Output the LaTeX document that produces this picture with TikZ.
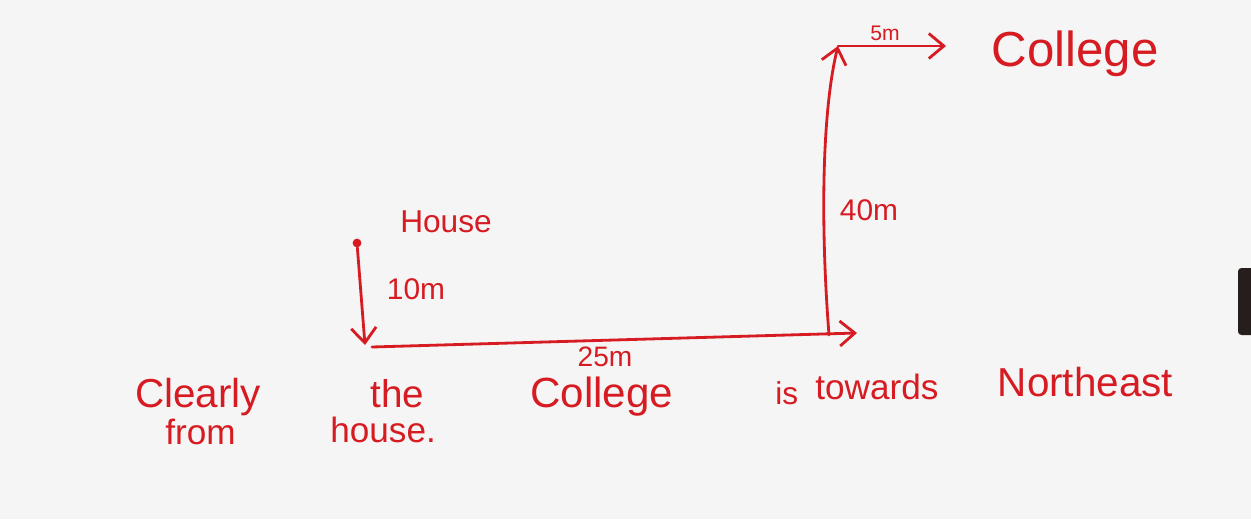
\documentclass[tikz,border=0pt]{standalone}
\usepackage{fontspec}
\setmainfont{Liberation Sans}
\usetikzlibrary{arrows.meta, positioning}
\definecolor{inkred}{RGB}{214, 28, 34}
\definecolor{paper}{RGB}{245, 245, 245}
\definecolor{barblack}{RGB}{38, 30, 28}

\tikzset{
  pen/.style={inkred, line width=1.6pt, line cap=round},
  penarrow/.style={pen, -{Straight Barb[length=3mm, width=5mm, line width=1.6pt]}},
  scrawl/.style={text=inkred, inner sep=0pt},
  housedot/.style={circle, fill=inkred, inner sep=0pt, minimum size=5pt}
}

\begin{document}
\begin{tikzpicture}

% ============================================================
% 背景
% ============================================================
\fill[paper] (0,0) rectangle (25.02,10.38);
\useasboundingbox (0,0) rectangle (25.02,10.38);

% 右侧黑条
\fill[barblack, rounded corners=2pt] (24.76,3.68) rectangle (25.30,5.02);

% ============================================================
% 路线：House -> 10m 南 -> 25m 东 -> 40m 北 -> 5m 东
% ============================================================
\node[housedot] (house) at (7.14,5.52) {};
\coordinate (sw) at (7.30,3.48);
\coordinate (swstart) at (7.44,3.44);
\coordinate (se) at (17.14,3.72);
\coordinate (nestart) at (16.58,3.68);
\coordinate (ne) at (16.76,9.46);
\coordinate (college-end) at (18.92,9.46);

\draw[penarrow] (house) -- (sw);
\draw[penarrow] (swstart) -- (se);
\draw[penarrow] (nestart) .. controls (16.40,6.0) and (16.45,8.2) .. (ne);
\draw[penarrow] (ne) -- (college-end);

% 标注
\node[scrawl, font=\fontsize{18}{20}\selectfont] (houselbl) at (8.92,5.94) {House};
\node[scrawl, font=\fontsize{17}{20}\selectfont] (ten) at (8.32,4.60) {10m};
\node[scrawl, font=\fontsize{16}{18}\selectfont] (twentyfive) at (12.10,3.24) {25m};
\node[scrawl, font=\fontsize{17}{20}\selectfont] (forty) at (17.38,6.18) {40m};
\node[scrawl, font=\fontsize{12}{14}\selectfont] (five) at (17.70,9.72) {5m};
\node[scrawl, font=\fontsize{28}{32}\selectfont] (college) at (21.50,9.30) {College};

% ============================================================
% 结论
% ============================================================
\node[scrawl, anchor=base west, font=\fontsize{23}{30}\selectfont] (w1) at (2.70,2.24) {Clearly};
\node[scrawl, anchor=base west, font=\fontsize{22}{30}\selectfont] (w2) at (7.40,2.24) {the};
\node[scrawl, anchor=base west, font=\fontsize{24}{30}\selectfont] (w3) at (10.60,2.24) {College};
\node[scrawl, anchor=base west, font=\fontsize{18}{30}\selectfont] (w4) at (15.50,2.30) {is};
\node[scrawl, anchor=base west, font=\fontsize{20}{30}\selectfont] (w5) at (16.30,2.40) {towards};
\node[scrawl, anchor=base west, font=\fontsize{23}{30}\selectfont] (w6) at (19.95,2.46) {Northeast};
\node[scrawl, anchor=base west, font=\fontsize{20}{30}\selectfont] (w7) at (3.30,1.50) {from};
\node[scrawl, anchor=base west, font=\fontsize{20}{30}\selectfont] (w8) at (6.60,1.54) {house.};

\end{tikzpicture}
\end{document}
